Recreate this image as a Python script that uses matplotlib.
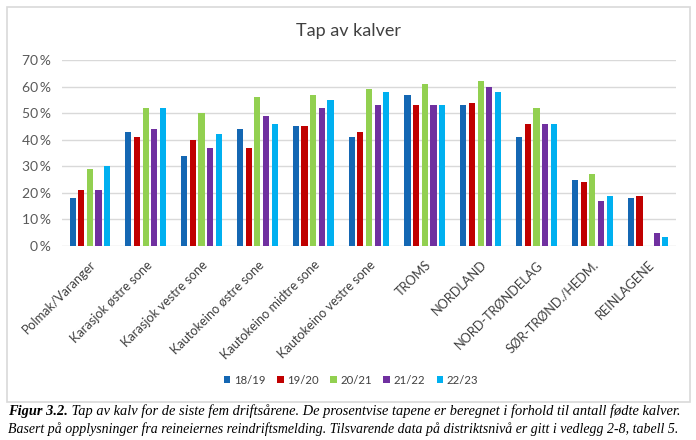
import matplotlib
matplotlib.use("Agg")
import matplotlib.pyplot as plt
import numpy as np
from matplotlib.patches import Rectangle
from matplotlib.ticker import FuncFormatter

categories = ["Polmak/Varanger", "Karasjok østre sone", "Karasjok vestre sone",
              "Kautokeino østre sone", "Kautokeino midtre sone", "Kautokeino vestre sone",
              "TROMS", "NORDLAND", "NORD-TRØNDELAG", "SØR-TRØND./HEDM.", "REINLAGENE"]
series_names = ["18/19", "19/20", "20/21", "21/22", "22/23"]
s1819 = [18, 43, 34, 44, 45, 41, 57, 53, 41, 25, 18]
s1920 = [21, 41, 40, 37, 45, 43, 53, 54, 46, 24, 19]
s2021 = [29, 52, 50, 56, 57, 59, 61, 62, 52, 27, np.nan]
s2122 = [21, 44, 37, 49, 52, 53, 53, 60, 46, 17, 5]
s2223 = [30, 52, 42, 46, 55, 58, 53, 58, 46, 19, 3.5]
series = [s1819, s1920, s2021, s2122, s2223]
colors = ["#1467B3", "#C00000", "#92D050", "#7030A0", "#00B0F0"]

plt.rcParams['font.family'] = ['Lato', 'DejaVu Sans']

W, H = 696, 440
fig = plt.figure(figsize=(W/100, H/100), dpi=100)

# chart frame
fig.patches.append(Rectangle((7/W, 1-402/H), (690-7)/W, (402-7)/H, transform=fig.transFigure,
                             fill=False, edgecolor="#d9d9d9", linewidth=1.2))

ax = fig.add_axes([62/W, 1-246/H, (676-62)/W, (246-60)/H])
x = np.arange(len(categories))
step = 0.155
bw = 0.11
for i, (vals, c, name) in enumerate(zip(series, colors, series_names)):
    ax.bar(x + (i-2)*step, np.array(vals)/100, width=bw, color=c, label=name, zorder=3)

ax.set_xlim(-0.5, len(categories)-0.5)
ax.set_ylim(0, 0.7)
ax.set_yticks(np.arange(0, 0.71, 0.1))
ax.yaxis.set_major_formatter(FuncFormatter(lambda v, p: f"{int(round(v*100))}\u2009%"))
ax.grid(axis='y', color="#d9d9d9", linewidth=1, zorder=0)
for s in ax.spines.values():
    s.set_visible(False)
ax.tick_params(axis='both', length=0, colors="#595959")
ax.tick_params(axis='y', pad=8, labelsize=10)
ax.set_xticks(x)
ax.set_xticklabels(categories, rotation=45, ha='right', rotation_mode='anchor', color="#404040", fontsize=9.2)
ax.tick_params(axis='x', pad=9)

fig.text(348/W, 1-31/H, "Tap av kalver", ha='center', va='center', fontsize=13, color="#404040")

leg = fig.legend(loc='center', bbox_to_anchor=(351/W, 1-380/H), ncol=5, frameon=False,
                 fontsize=8.2, handlelength=0.6, handleheight=0.6, handletextpad=0.3,
                 columnspacing=1.0, labelcolor="#404040")

t1 = fig.text(8/W, 1-411/H, "Figur 3.2.", ha='left', va='center', fontsize=10.4,
              family='Liberation Serif', style='italic', weight='bold')
fig.canvas.draw()
ax.annotate(" Tap av kalv for de siste fem driftsårene. De prosentvise tapene er beregnet i forhold til antall fødte kalver.",
            xy=(1, 0.5), xycoords=t1, ha='left', va='center', fontsize=10.4,
            family='Liberation Serif', style='italic', annotation_clip=False)
fig.text(8/W, 1-429/H, "Basert på opplysninger fra reineiernes reindriftsmelding. Tilsvarende data på distriktsnivå er gitt i vedlegg 2-8, tabell 5.",
         ha='left', va='center', fontsize=10.0, family='Liberation Serif', style='italic')

fig.savefig("out.png", dpi=100)
